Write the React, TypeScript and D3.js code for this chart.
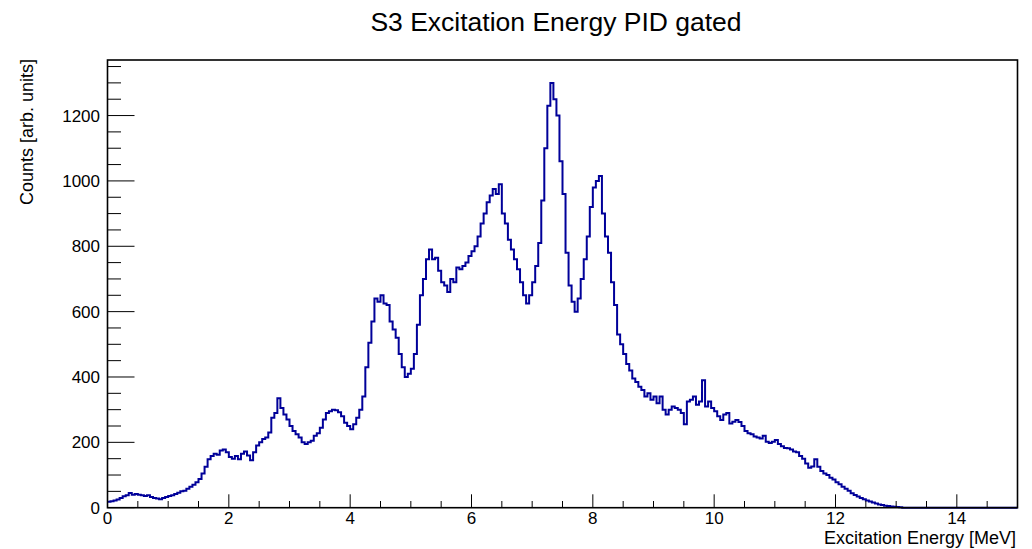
import React from 'react';
import * as d3 from 'd3';

// ---- data (bin width 0.05 MeV, counts) ----
const binWidth = 0.05;
const countsA = [18, 20, 22, 25, 30, 35, 38, 45, 40, 42, 40, 38, 36, 38, 33, 30, 28, 26, 30, 33, 36, 38, 42, 46, 50, 52, 58, 64, 70, 78, 88, 105, 125, 148, 158, 165, 162, 175, 178, 170, 155, 150, 158, 148, 165, 172];
const countsB = [160, 145, 170, 190, 200, 210, 215, 230, 275, 290, 335, 305, 285, 270, 250, 235, 225, 215, 200, 195, 200, 205, 220, 228, 245, 270, 290, 295, 300, 298, 292, 280, 260, 250, 240, 255, 275, 300, 340, 430, 505, 570, 640, 630, 650, 625];
const countsC = [620, 570, 545, 520, 470, 430, 400, 410, 425, 470, 560, 650, 700, 760, 790, 760, 765, 725, 690, 680, 660, 700, 690, 735, 730, 740, 750, 770, 785, 800, 830, 870, 900, 935, 955, 975, 960, 990, 900, 870, 820, 790, 760, 730, 690];
const countsD = [650, 625, 650, 690, 740, 810, 940, 1100, 1230, 1300, 1250, 1200, 1060, 960, 780, 680, 630, 600, 640, 700, 760, 830, 920, 980, 1000, 1015, 900, 830, 780, 690, 620, 530, 500];
const countsE = [470, 440, 420, 395, 385, 370, 360, 340, 350, 330, 340, 320, 340, 300, 285, 300, 310, 305, 300, 290, 255, 325, 330, 340, 315, 325, 390, 310, 325, 305, 295, 280, 268, 285, 290, 258, 263, 268, 262, 250, 235, 228, 225, 218, 215, 212, 220, 202, 198, 202, 207, 195, 188, 183, 182, 178, 172, 170];
const countsF = [158, 150, 135, 122, 126, 148, 125, 112, 105, 100, 92, 86, 78, 72, 64, 58, 52, 44, 39, 34, 30, 26, 22, 19, 16, 13, 10, 8, 6, 5, 4, 3, 2, 1];
const countsTail = [0, 0, 0, 0, 0, 0, 0, 0, 0, 0, 0, 0, 0, 0, 0, 0, 0, 0, 0, 0, 0, 0, 0, 0, 0, 0, 0, 0, 0, 0, 0, 0, 0, 0, 0, 0, 0, 0];
const counts = [...countsA, ...countsB, ...countsC, ...countsD, ...countsE, ...countsF, ...countsTail];

const xMajorTicks = [0, 2, 4, 6, 8, 10, 12, 14];
const yMajorTicks = [0, 200, 400, 600, 800, 1000, 1200];
const xMinorTicks = [0.5, 1, 1.5, 2.5, 3, 3.5, 4.5, 5, 5.5, 6.5, 7, 7.5, 8.5, 9, 9.5, 10.5, 11, 11.5, 12.5, 13, 13.5, 14.5];
const yMinorTicks = [50, 100, 150, 250, 300, 350, 450, 500, 550, 650, 700, 750, 850, 900, 950, 1050, 1100, 1150, 1250, 1300, 1350];

const title = 'S3 Excitation Energy PID gated';
const xTitle = 'Excitation Energy [MeV]';
const yTitle = 'Counts [arb. units]';

const FONT = "'Liberation Sans', Arial, Helvetica, sans-serif";

export default function App() {
  const W = 1032, H = 549;
  const x = d3.scaleLinear().domain([0, 15]).range([107.5, 1017.5]);
  const y = d3.scaleLinear().domain([0, 1370]).range([507.7, 60]);

  const pts: [number, number][] = counts.map((c, i) => [i * binWidth, c]);
  pts.push([counts.length * binWidth, counts[counts.length - 1]]);
  const line = d3.line<[number, number]>()
    .x(d => x(d[0]))
    .y(d => y(d[1]))
    .curve(d3.curveStepAfter);
  const path = line(pts) || '';

  const x0 = x(0), x1 = x(15), yb = y(0), yt = y(1370);
  const yMajLen = 27, yMinLen = 13.5, xMajLen = 13.4, xMinLen = 6.7;

  return (
    <svg width={W} height={H} style={{ position: 'absolute', left: 0, top: 0, background: '#fff' }} fontFamily={FONT}>
      <rect x={0} y={0} width={W} height={H} fill="#fff" />
      <text x={556} y={31} fontSize={26.5} textAnchor="middle" fill="#000">{title}</text>

      <path d={path} fill="none" stroke="#000099" strokeWidth={2} />

      {/* frame */}
      <rect x={x0} y={yt} width={x1 - x0} height={yb - yt} fill="none" stroke="#000" strokeWidth={1.6} />

      {/* y ticks */}
      {yMajorTicks.map(v => (
        <g key={'ym' + v}>
          <line x1={x0} x2={x0 + yMajLen} y1={y(v)} y2={y(v)} stroke="#000" strokeWidth={1} />
          <text x={100} y={y(v)} dy="0.35em" fontSize={17} textAnchor="end" fill="#000">{v}</text>
        </g>
      ))}
      {yMinorTicks.map(v => (
        <line key={'yn' + v} x1={x0} x2={x0 + yMinLen} y1={y(v)} y2={y(v)} stroke="#000" strokeWidth={1} />
      ))}

      {/* x ticks */}
      {xMajorTicks.map(v => (
        <g key={'xm' + v}>
          <line x1={x(v)} x2={x(v)} y1={yb} y2={yb - xMajLen} stroke="#000" strokeWidth={1} />
          <text x={x(v)} y={523.5} fontSize={17} textAnchor="middle" fill="#000">{v}</text>
        </g>
      ))}
      {xMinorTicks.map(v => (
        <line key={'xn' + v} x1={x(v)} x2={x(v)} y1={yb} y2={yb - xMinLen} stroke="#000" strokeWidth={1} />
      ))}

      <text x={1016} y={543.5} fontSize={18} textAnchor="end" fill="#000">{xTitle}</text>
      <text transform={`translate(33,59) rotate(-90)`} fontSize={18} textAnchor="end" fill="#000">{yTitle}</text>
    </svg>
  );
}
